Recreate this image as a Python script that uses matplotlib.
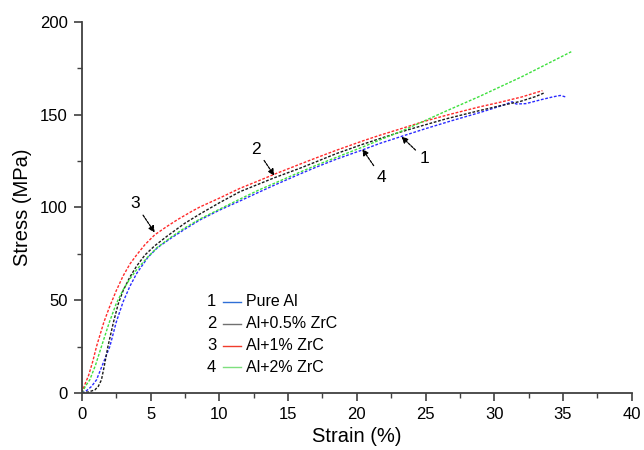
import matplotlib
matplotlib.use("Agg")
import matplotlib.pyplot as plt

plt.rcParams['font.family'] = ['Liberation Sans', 'DejaVu Sans']

# Pure Al (1)
strain_1 = [0, 0.35, 0.7, 1.07, 1.5, 2.04, 2.5, 3.0, 3.5, 4.0, 4.8, 5.5, 6.5,
            7.5, 8.6, 10, 11.5, 12.9, 14, 15.85, 17, 18.5, 20.4, 21.7, 23.2,
            25, 27, 29, 30.5, 31.3, 31.6, 32.3, 33.5, 34.3, 34.8, 35.2]
stress_1 = [0, 1.2, 3.4, 7, 15, 25, 38, 49, 57.5, 64.5, 73, 78.3, 83.5,
            88.3, 93.3, 98.5, 103.5, 108.3, 112, 118, 121.6, 126, 131, 134.6, 138.2,
            142.5, 147, 151.3, 154.8, 157, 155.8, 156, 158.3, 159.7, 160.4, 159.6]

# Al+0.5% ZrC (2)
strain_2 = [0, 0.5, 0.95, 1.2, 1.43, 1.65, 1.9, 2.3, 2.65, 3.0, 3.5, 4.0, 4.6,
            5.3, 6.2, 7.5, 8.6, 10, 11.5, 14, 15.85, 17, 18.5, 20.4, 21.7, 23.1,
            24.8, 26.5, 28.9, 30.4, 31.9, 33.0, 33.7]
stress_2 = [0, 0.5, 1.6, 3.5, 7, 15, 25, 38, 48, 55, 62.5, 68.5, 74.4,
            79.3, 84.5, 91.5, 96.5, 102.5, 108.5, 116, 121.1, 124.5, 129, 134, 137.2, 140.5,
            144.2, 147.8, 152.2, 154.8, 157.2, 159.8, 162]

# Al+1% ZrC (3)
strain_3 = [0, 0.25, 0.5, 0.8, 1.07, 1.6, 2.0, 2.5, 3.0, 3.5, 4.0, 4.6, 5.3,
            6.2, 7.0, 8.0, 8.6, 10, 11.5, 13, 14, 15.85, 17, 18.5, 20.4, 21.7,
            23.1, 24.8, 26.5, 28.9, 30.4, 32, 33.5]
stress_3 = [0, 5, 9.5, 17, 25, 38, 46, 55, 63, 69.5, 74.5, 80, 85.2,
            89.8, 93.6, 97.9, 100.3, 105, 110.3, 114.8, 117.9, 123.3, 126.6, 130.8, 135.8, 139,
            142.2, 146.2, 149.7, 154.2, 156.7, 159.6, 163]

# Al+2% ZrC (4)
strain_4 = [0, 0.3, 0.58, 1.0, 1.43, 2.0, 2.5, 3.0, 3.5, 4.0, 4.8, 5.5, 6.5,
            7.5, 8.6, 10, 11.5, 12.9, 14, 15.85, 17, 18.5, 20.4, 21.7, 23.2,
            24.8, 26.5, 28.9, 32, 35.6]
stress_4 = [0, 4, 7, 15, 25, 38, 48, 55.5, 61.5, 66.5, 73.3, 78.5, 84,
            89, 93.8, 99, 104.5, 109.5, 113, 119, 122.6, 127, 132.5, 136.5, 141,
            146.3, 152, 159.8, 170.5, 184]

labels = ['Pure Al', 'Al+0.5% ZrC', 'Al+1% ZrC', 'Al+2% ZrC']
colors = ['#2a2aff', '#1a1a1a', '#ff2a2a', '#3ee03e']
legend_colors = ['#2f6fd6', '#707070', '#f03c2c', '#7ee07e']

fig = plt.figure(figsize=(6.44, 4.5), dpi=100)
ax = fig.add_axes([0.127, 0.127, 0.854, 0.824])

series = [(strain_1, stress_1), (strain_2, stress_2),
          (strain_3, stress_3), (strain_4, stress_4)]
for (x, y), c in zip(series, colors):
    ax.plot(x, y, color=c, lw=1.0, linestyle=(0, (2.0, 1.2)))

ax.set_xlim(0, 40)
ax.set_ylim(0, 200)
ax.set_xticks(range(0, 41, 5))
ax.set_yticks(range(0, 201, 50))
ax.set_xticks([2.5 + 5 * i for i in range(8)], minor=True)
ax.set_yticks([25 + 50 * i for i in range(4)], minor=True)
for s in ['top', 'right']:
    ax.spines[s].set_visible(False)
for s in ['left', 'bottom']:
    ax.spines[s].set_color('#404040')
    ax.spines[s].set_linewidth(1.3)
ax.tick_params(which='major', direction='out', length=6, width=1.2,
               color='#404040', labelsize=12, pad=4)
ax.tick_params(which='minor', direction='out', length=3.5, width=1.0,
               color='#404040')
ax.set_xlabel('Strain (%)', fontsize=14.5, labelpad=4)
ax.set_ylabel('Stress (MPa)', fontsize=14.5, labelpad=6)

# numbered legend
rows_y = [0.246, 0.186, 0.127, 0.069]
for i, (lab, c) in enumerate(zip(labels, legend_colors)):
    y = rows_y[i]
    ax.text(0.236, y, str(i + 1), transform=ax.transAxes, fontsize=12,
            ha='center', va='center')
    ax.plot([0.256, 0.290], [y, y], transform=ax.transAxes, color=c, lw=1.0)
    ax.text(0.299, y, lab, transform=ax.transAxes, fontsize=11.5,
            ha='left', va='center')

# callout arrows
arrow = dict(arrowstyle='-|>', linestyle=(0, (2, 1)), color='black', lw=0.9,
             mutation_scale=9, shrinkA=1, shrinkB=0)
notes = [('1', (24.9, 126.5), (23.25, 138.2)),
         ('2', (12.7, 131.5), (14.0, 117.2)),
         ('3', (3.9, 102.0), (5.3, 86.5)),
         ('4', (21.8, 116.4), (20.4, 131.5))]
for txt, xytext, xy in notes:
    ax.annotate(txt, xy=xy, xytext=xytext, fontsize=12.5,
                ha='center', va='center', arrowprops=arrow)

fig.savefig('out.png', dpi=100)
